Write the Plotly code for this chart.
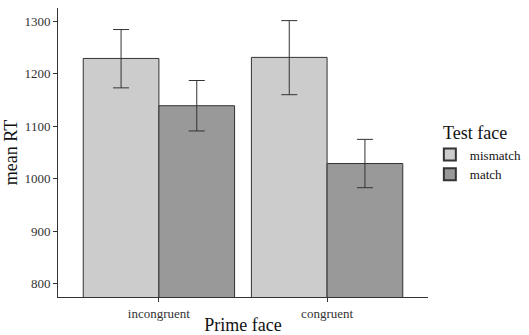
import plotly.graph_objects as go

categories = ["incongruent", "congruent"]
mismatch_mean = [1229, 1231]
mismatch_upper = [1284, 1301]
mismatch_lower = [1173, 1160]
match_mean = [1139, 1029]
match_upper = [1187, 1075]
match_lower = [1091, 983]
y_ticks = [800, 900, 1000, 1100, 1200, 1300]

FONT = "Liberation Serif"

def bar(name, means, up, lo, color):
    return go.Bar(
        name=name, x=categories, y=means, base=0,
        marker=dict(color=color, line=dict(color="#333333", width=1)),
        error_y=dict(type="data", symmetric=False,
                     array=[u - m for u, m in zip(up, means)],
                     arrayminus=[m - l for m, l in zip(means, lo)],
                     color="#333333", thickness=1, width=8),
    )

fig = go.Figure([
    bar("mismatch", mismatch_mean, mismatch_upper, mismatch_lower, "#cccccc"),
    bar("match", match_mean, match_upper, match_lower, "#999999"),
])

fig.update_layout(
    width=529, height=335,
    margin=dict(l=58, r=101, t=8, b=38, autoexpand=False),
    plot_bgcolor="white", paper_bgcolor="white",
    barmode="group", bargap=0.1, bargroupgap=0,
    font=dict(family=FONT, color="#222222"),
    legend=dict(
        x=1.005, y=0.545, xanchor="left", yanchor="top",
        font=dict(size=13, family=FONT, color="#111111"),
        tracegroupgap=0, itemsizing="constant",
    ),
    annotations=[dict(
        text="Test face", xref="paper", yref="paper", x=1.035, y=0.567,
        xanchor="left", yanchor="middle", showarrow=False,
        font=dict(size=18, family=FONT, color="#111111"),
    )],
    xaxis=dict(
        range=[-0.6, 1.6], showline=True, linecolor="#333333", linewidth=1,
        ticks="outside", ticklen=4, tickcolor="#333333", automargin=False,
        tickfont=dict(size=13, family=FONT, color="#333333"),
        title=dict(text="Prime face", font=dict(size=18, family=FONT, color="#111111"), standoff=0),
        showgrid=False, zeroline=False,
    ),
    yaxis=dict(
        range=[775, 1325], tickvals=y_ticks, showline=True, linecolor="#333333", linewidth=1,
        ticks="outside", ticklen=4, tickcolor="#333333", automargin=False,
        tickfont=dict(size=13, family=FONT, color="#333333"),
        title=dict(text="mean RT", font=dict(size=18, family=FONT, color="#111111"), standoff=2),
        showgrid=False, zeroline=False,
    ),
)

fig.write_html("out.html", config={"displayModeBar": False},
               post_script="document.body.style.margin='0';")
